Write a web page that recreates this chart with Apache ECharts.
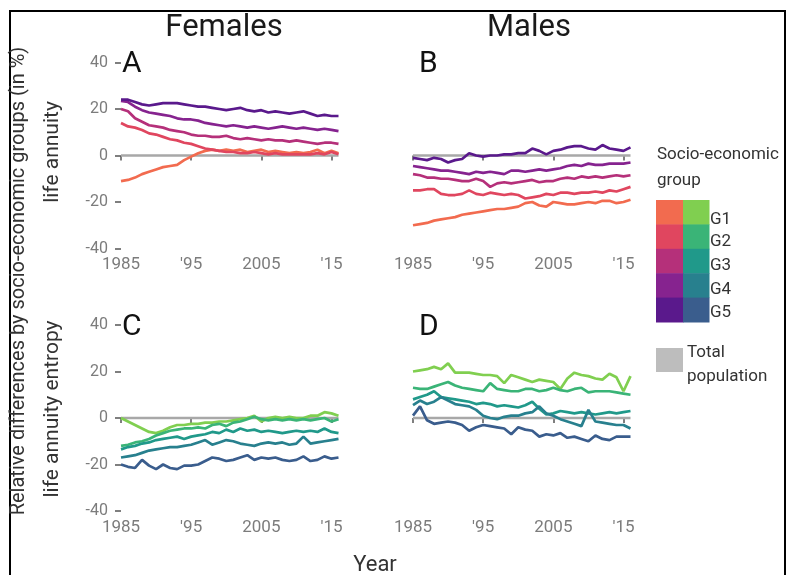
<!DOCTYPE html>
<html>
<head>
<meta charset="utf-8">
<script src="https://cdn.jsdelivr.net/npm/echarts@6/dist/echarts.min.js"></script>
<style>
  html, body { margin: 0; padding: 0; background: #fff; }
  #chart { width: 789px; height: 575px; }
</style>
</head>
<body>
<div id="chart"></div>
<script>
// Years covered by every series
const years = [1985, 1986, 1987, 1988, 1989, 1990, 1991, 1992, 1993, 1994, 1995, 1996, 1997, 1998, 1999, 2000,
               2001, 2002, 2003, 2004, 2005, 2006, 2007, 2008, 2009, 2010, 2011, 2012, 2013, 2014, 2015, 2016];
const groups = ['G1', 'G2', 'G3', 'G4', 'G5'];

// Axis ticks
const xTickValues = [1985, 1995, 2005, 2015];
const xTickLabels = ['1985', "'95", '2005', "'15"];
const yTickValues = [-40, -20, 0, 20, 40];

// Relative differences (%) — life annuity, females (G1..G5)
const femaleAnnuity = [
  [-11, -10.5, -9.5, -8, -7, -6, -5, -4.5, -4, -2, -0.5, 1, 2, 2.5, 2, 2.5, 2, 2.5, 1.5, 2, 2.5, 1.5, 2, 1.5, 1, 1.5, 1, 1.5, 2.5, 1, 2, 1],
  [14, 12.5, 12, 11, 9.5, 9, 8, 7, 6.5, 5.5, 5, 4, 3, 2.5, 2, 1.5, 1.5, 1, 1, 1.5, 1, 0.5, 1, 0.5, 0.5, 0.5, 0.5, 0.5, 1, 0.5, 1.5, 0.5],
  [20, 19, 16, 14.5, 13, 12.5, 12, 11, 10.5, 10, 9, 8.5, 8.5, 8, 8, 8.5, 7.5, 7, 7.5, 7, 6.5, 7, 6.5, 6.5, 6, 6.5, 6, 5.5, 5, 5.5, 5.5, 5],
  [23.5, 23, 21, 19.5, 18.5, 18, 17.5, 17, 16, 15.5, 15.5, 15, 14, 13.5, 13, 12.5, 13, 12.5, 12, 12.5, 12, 11.5, 12, 12.5, 12, 11.5, 12, 11.5, 11, 11.5, 11, 10.5],
  [24, 24, 23, 22, 21.5, 22, 22.5, 22.5, 22.5, 22, 21.5, 21, 21, 20.5, 20, 19.5, 20, 20.5, 19.5, 19, 19.5, 18.5, 19, 18.5, 18, 18.5, 19, 18, 17, 17.5, 17, 17]
];

// Relative differences (%) — life annuity, males (G1..G5)
const maleAnnuity = [
  [-30, -29.5, -29, -28, -27.5, -27, -26.5, -25.5, -25, -24.5, -24, -23.5, -23, -23, -22.5, -22, -20.5, -20, -21.5, -22, -20, -20.5, -21, -21, -20.5, -20, -20.5, -19.5, -19.5, -20.5, -20, -19],
  [-15, -15, -14.5, -14.5, -16.5, -17, -17, -16.5, -15, -16.5, -17, -16, -16.5, -17, -16.5, -17, -18.5, -18, -17.5, -16.5, -17, -16, -16, -16.5, -16, -16, -15.5, -16, -15, -15.5, -14.5, -13.5],
  [-8, -8.5, -9.5, -9.5, -10, -10, -10.5, -11, -11, -10, -11, -13.5, -12, -11.5, -12, -11.5, -11, -10.5, -11.5, -11, -11, -10, -9.5, -10, -9, -9.5, -9, -9.5, -9, -8.5, -9, -8.5],
  [-4.5, -5, -5.5, -6, -6.5, -6.5, -7, -7.5, -8, -7, -7.5, -7, -7.5, -8, -6.5, -6.5, -7, -6.5, -6, -6.5, -6, -5.5, -4.5, -4, -4.5, -3.5, -4, -4, -3.5, -3.5, -3.5, -3],
  [-1, -1.5, -2, -1, -1.5, -3, -2, -1.5, 1, 0, -0.5, 0, 0, 0.5, 0.5, 1, 1, 3, 2, 0.5, 2, 2.5, 3.5, 4, 4, 3, 2.5, 4.5, 3, 2.5, 2, 3.5]
];

// Relative differences (%) — life annuity entropy, females (G1..G5)
const femaleEntropy = [
  [0, -1.5, -3, -4.5, -6, -6.5, -5.5, -4, -3, -3, -2.5, -2.5, -2, -2, -1.5, -1.5, -1, -0.5, 0, 1, -1.5, 0, 0.5, 0, 0.5, 0, 0, 1, 1, 2.5, 2, 1],
  [-12, -11.5, -10.5, -10, -9, -7.5, -6.5, -5.5, -5, -4.5, -4.5, -4, -4.5, -3, -2.5, -3.5, -2, -1.5, -0.5, 0.5, -0.5, -1, -0.5, -1, -0.5, -1, -0.5, -1, -0.5, 0, -1.5, -0.5],
  [-13.5, -12.5, -12, -11, -10.5, -9.5, -9, -8.5, -8, -9, -8, -7.5, -7, -6, -6.5, -5, -6, -4.5, -5.5, -5, -6, -5.5, -6, -6.5, -6, -5.5, -6, -5.5, -6, -4.5, -6, -6.5],
  [-17, -16.5, -16, -15, -14, -13.5, -13, -12.5, -12.5, -12, -11.5, -10.5, -9.5, -11.5, -10.5, -9.5, -10, -11, -11.5, -12, -11, -10.5, -11, -10.5, -11.5, -11, -8, -11, -10.5, -10, -9.5, -9],
  [-20, -21, -21.5, -18, -20.5, -22, -20, -21.5, -22, -20.5, -20.5, -20, -18.5, -17, -17.5, -18.5, -18, -17, -16, -18, -17, -17.5, -17, -18, -18.5, -18, -16.5, -18.5, -18, -16.5, -17.5, -17]
];

// Relative differences (%) — life annuity entropy, males (G1..G5)
const maleEntropy = [
  [20, 20.5, 21, 22, 21, 23.5, 19.5, 19.5, 19.5, 19, 18.5, 18.5, 18, 15, 18.5, 17.5, 16.5, 15.5, 16.5, 16, 15.5, 12.5, 17, 19.5, 18.5, 18, 17, 16.5, 19, 17.5, 11.5, 18],
  [13, 12.5, 12.5, 13.5, 14.5, 15.5, 14, 13, 12.5, 12, 11.5, 15, 12.5, 12, 11.5, 11.5, 12.5, 12.5, 11.5, 12, 13, 12, 11.5, 12.5, 13, 11, 11.5, 11.5, 11.5, 11, 10.5, 10],
  [8, 9, 10, 11.5, 9, 8.5, 8, 7.5, 7, 6, 6.5, 6, 5, 5.5, 5, 4.5, 5.5, 7, 4, 1.5, 2, 3, 2.5, 2, 2.5, 2, 1.5, 2, 2.5, 2, 2.5, 3],
  [5.5, 7.5, 6, 7, 9, 7.5, 6, 5.5, 5, 3.5, 1, 0, -0.5, 0.5, 1, 1, 2, 2.5, 5, 2, 1, -0.5, -1.5, -2.5, -3.5, 3.5, -1.5, -2, -2.5, -3, -3, -4.5],
  [1, 5, -1, -2.5, -2, -1.5, -2, -3, -5.5, -4, -3, -3.5, -4, -4.5, -7, -4, -5, -5.5, -8, -7, -7.5, -6.5, -8.5, -8, -9, -10, -7.5, -9, -9.5, -8, -8, -8]
];

// Reference: the total population relative to itself
const totalPopulation = [0, 0, 0, 0, 0, 0, 0, 0, 0, 0, 0, 0, 0, 0, 0, 0,
                         0, 0, 0, 0, 0, 0, 0, 0, 0, 0, 0, 0, 0, 0, 0, 0];

// Palettes
const annuityColors = ['#f26b4f', '#e0465f', '#b5307a', '#86238f', '#5a198c'];
const entropyColors = ['#80cf50', '#3ab477', '#20998a', '#28808e', '#3a5d8d'];
const totalColor = '#a8a8a8';

const FONT = 'Roboto, "Noto Sans", sans-serif';
const tickGray = '#7c7c7c';

// Panel geometry: A, B (top row) and C, D (bottom row)
const panels = [
  { left: 121, top: 62.5, tag: 'A', data: femaleAnnuity, colors: annuityColors, yLabels: true },
  { left: 413, top: 62.5, tag: 'B', data: maleAnnuity,   colors: annuityColors, yLabels: false },
  { left: 121, top: 325,  tag: 'C', data: femaleEntropy, colors: entropyColors, yLabels: true },
  { left: 413, top: 325,  tag: 'D', data: maleEntropy,   colors: entropyColors, yLabels: false }
];
const PW = 217.5, PH = 186;

const xLabelMap = {};
xTickValues.forEach((v, i) => { xLabelMap[v] = xTickLabels[i]; });

const grid = [], xAxis = [], yAxis = [], series = [];
panels.forEach((p, i) => {
  grid.push({ left: p.left, top: p.top, width: PW, height: PH });
  xAxis.push({
    type: 'value', gridIndex: i, min: 1985, max: 2016,
    axisLine: { show: false },
    splitLine: { show: false },
    axisTick: { show: true, customValues: xTickValues, length: 5, lineStyle: { color: '#555', width: 1.5 } },
    axisLabel: {
      show: true, customValues: xTickValues, margin: 8,
      color: tickGray, fontSize: 17, fontFamily: FONT,
      formatter: v => xLabelMap[v] || ''
    }
  });
  yAxis.push({
    type: 'value', gridIndex: i, min: -40, max: 40, interval: 20,
    axisLine: { show: false },
    splitLine: { show: false },
    axisTick: { show: p.yLabels, length: 6, lineStyle: { color: '#555', width: 1.5 } },
    axisLabel: { show: p.yLabels, margin: 13, color: tickGray, fontSize: 16, fontFamily: FONT }
  });
  series.push({
    type: 'line', name: 'Total population', xAxisIndex: i, yAxisIndex: i,
    data: years.map((y, k) => [y, totalPopulation[k]]),
    showSymbol: false, silent: true,
    lineStyle: { color: totalColor, width: 2.5 }
  });
  p.data.forEach((vals, g) => {
    series.push({
      type: 'line', name: groups[g], xAxisIndex: i, yAxisIndex: i,
      data: years.map((y, k) => [y, vals[k]]),
      showSymbol: false, silent: true,
      lineStyle: { color: p.colors[g], width: 2.7 }
    });
  });
});

function txt(x, y, text, opts) {
  opts = opts || {};
  return {
    type: 'text', x: x, y: y, rotation: opts.rotation || 0, silent: true,
    style: {
      text: text, fill: opts.color || '#222',
      font: (opts.weight || 'normal') + ' ' + (opts.size || 16) + 'px ' + FONT,
      textAlign: opts.align || 'left', textVerticalAlign: opts.valign || 'middle',
      align: opts.align || 'left', verticalAlign: opts.valign || 'middle'
    }
  };
}

const graphic = [];
// Outer frame
graphic.push({ type: 'rect', shape: { x: 10, y: 11, width: 775, height: 580 }, silent: true,
  style: { fill: 'none', stroke: '#000', lineWidth: 2 } });
// Facet titles
graphic.push(txt(224, 28, 'Females', { size: 31, align: 'center', color: '#1a1a1a' }));
graphic.push(txt(529, 28, 'Males', { size: 31, align: 'center', color: '#1a1a1a' }));
// Panel tags
panels.forEach(p => {
  graphic.push(txt(p.left + (p.yLabels ? 1 : 6), p.top + 2, p.tag, { size: 30, color: '#111' }));
});
// Axis titles
graphic.push(txt(19, 281, 'Relative differences by socio-economic groups (in %)', { size: 20, align: 'center', rotation: Math.PI / 2, color: '#333' }));
graphic.push(txt(53, 152, 'life annuity', { size: 21, align: 'center', rotation: Math.PI / 2, color: '#333' }));
graphic.push(txt(53, 409, 'life annuity entropy', { size: 21, align: 'center', rotation: Math.PI / 2, color: '#333' }));
graphic.push(txt(375, 565, 'Year', { size: 22, align: 'center', color: '#333' }));

// Legend
graphic.push(txt(657, 155, 'Socio-economic', { size: 17, color: '#333' }));
graphic.push(txt(657, 181, 'group', { size: 17, color: '#333' }));
const cellH = 24.4;
groups.forEach((g, i) => {
  graphic.push({ type: 'rect', silent: true, shape: { x: 656, y: 200 + i * cellH, width: 27.5, height: cellH + 0.5 }, style: { fill: annuityColors[i] } });
  graphic.push({ type: 'rect', silent: true, shape: { x: 683, y: 200 + i * cellH, width: 26.5, height: cellH + 0.5 }, style: { fill: entropyColors[i] } });
});
const legendLabelY = [220, 242, 266, 290, 313];
groups.forEach((g, i) => {
  graphic.push(txt(710, legendLabelY[i], g, { size: 17, color: '#333' }));
});
graphic.push({ type: 'rect', silent: true, shape: { x: 656, y: 348, width: 27, height: 24 }, style: { fill: '#bdbdbd' } });
graphic.push(txt(687, 353, 'Total', { size: 17, color: '#333' }));
graphic.push(txt(687, 377, 'population', { size: 17, color: '#333' }));

const chart = echarts.init(document.getElementById('chart'), null, { renderer: 'canvas' });
chart.setOption({
  animation: false,
  backgroundColor: '#fff',
  grid: grid,
  xAxis: xAxis,
  yAxis: yAxis,
  series: series,
  graphic: graphic
});
</script>
</body>
</html>
